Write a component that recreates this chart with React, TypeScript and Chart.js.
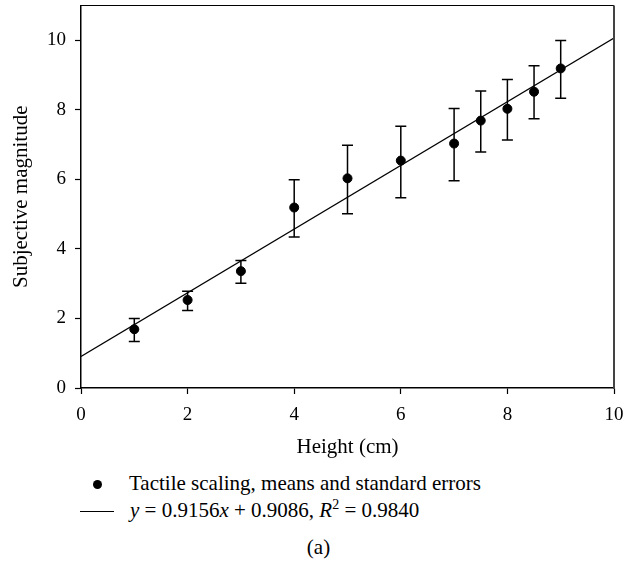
import React, { useEffect, useRef } from "react";
import { Chart, registerables } from "chart.js";

Chart.register(...registerables);

const heights = [1, 2, 3, 4, 5, 6, 7, 7.5, 8, 8.5, 9];
const means = [1.69, 2.53, 3.36, 5.19, 6.03, 6.54, 7.03, 7.69, 8.03, 8.52, 9.19];
const errLow = [1.34, 2.23, 3.01, 4.34, 5.01, 5.47, 5.96, 6.79, 7.13, 7.74, 8.33];
const errHigh = [2.0, 2.78, 3.67, 5.99, 6.98, 7.53, 8.04, 8.54, 8.87, 9.27, 9.99];
const fitX = [0, 10];
const fitY = [0.9086, 10.0646];
const xTicks = [0, 2, 4, 6, 8, 10];
const yTicks = [0, 2, 4, 6, 8, 10];

const FONT = "'Liberation Serif', 'DejaVu Serif', serif";

const errorBars = {
  id: "errorBars",
  beforeDatasetsDraw(chart: any) {
    const { ctx, scales } = chart;
    const xs = scales.x;
    const ys = scales.y;
    ctx.save();
    ctx.strokeStyle = "#000";
    ctx.lineWidth = 1.5;
    heights.forEach((h, i) => {
      const px = xs.getPixelForValue(h);
      const y1 = ys.getPixelForValue(errLow[i]);
      const y2 = ys.getPixelForValue(errHigh[i]);
      ctx.beginPath();
      ctx.moveTo(px, y1);
      ctx.lineTo(px, y2);
      ctx.moveTo(px - 5.5, y1);
      ctx.lineTo(px + 5.5, y1);
      ctx.moveTo(px - 5.5, y2);
      ctx.lineTo(px + 5.5, y2);
      ctx.stroke();
    });
    ctx.restore();
  },
};

const frame = {
  id: "frame",
  afterDraw(chart: any) {
    const { ctx, chartArea: a } = chart;
    ctx.save();
    ctx.strokeStyle = "#000";
    ctx.lineWidth = 1.2;
    ctx.beginPath();
    ctx.moveTo(a.left, a.top);
    ctx.lineTo(a.right, a.top);
    ctx.stroke();
    ctx.strokeStyle = "#444";
    ctx.lineWidth = 2;
    ctx.beginPath();
    ctx.moveTo(a.right, a.top);
    ctx.lineTo(a.right, a.bottom + 1);
    ctx.stroke();
    ctx.restore();
  },
};

export default function App() {
  const ref = useRef<HTMLCanvasElement>(null);
  useEffect(() => {
    const chart = new Chart(ref.current as HTMLCanvasElement, {
      type: "scatter",
      data: {
        datasets: [
          {
            label: "Tactile scaling, means and standard errors",
            data: heights.map((h, i) => ({ x: h, y: means[i] })),
            backgroundColor: "#000",
            borderColor: "#000",
            pointRadius: 4.5,
            pointHoverRadius: 4.5,
            order: 1,
          },
          {
            type: "line",
            label: "fit",
            data: fitX.map((x, i) => ({ x, y: fitY[i] })),
            borderColor: "#000",
            borderWidth: 1.3,
            pointRadius: 0,
            fill: false,
            order: 2,
          } as any,
        ],
      },
      options: {
        animation: false,
        responsive: false,
        maintainAspectRatio: false,
        layout: { padding: { top: 4, right: 23, left: 0, bottom: 0 } },
        plugins: { legend: { display: false }, tooltip: { enabled: false } },
        scales: {
          x: {
            type: "linear",
            min: 0,
            max: 10,
            afterBuildTicks: (s: any) => {
              s.ticks = xTicks.map((v) => ({ value: v }));
            },
            afterFit: (s: any) => {
              s.height = 72;
              s.paddingLeft = 0;
              s.paddingRight = 0;
            },
            ticks: { color: "#000", font: { family: FONT, size: 19 }, padding: 10, maxRotation: 0 },
            grid: { drawOnChartArea: false, drawTicks: true, tickLength: 6, tickColor: "#000", tickWidth: 1.2 },
            border: { display: true, color: "#000", width: 1.5 },
            title: {
              display: true,
              text: "Height (cm)",
              color: "#000",
              font: { family: FONT, size: 21 },
              padding: { top: 0, bottom: 0 },
            },
          },
          y: {
            type: "linear",
            min: 0,
            max: 11,
            afterBuildTicks: (s: any) => {
              s.ticks = yTicks.map((v) => ({ value: v }));
            },
            afterFit: (s: any) => {
              s.width = 81;
              s.paddingTop = 0;
              s.paddingBottom = 0;
            },
            ticks: { color: "#000", font: { family: FONT, size: 19 }, padding: 9 },
            grid: { drawOnChartArea: false, drawTicks: true, tickLength: 6, tickColor: "#000", tickWidth: 1.2 },
            border: { display: true, color: "#000", width: 1.5 },
            title: {
              display: true,
              text: "Subjective magnitude",
              color: "#000",
              font: { family: FONT, size: 21 },
              padding: { top: 9, bottom: 0 },
            },
          },
        },
      },
      plugins: [errorBars, frame],
    });
    return () => chart.destroy();
  }, []);

  const textStyle: React.CSSProperties = {
    position: "absolute",
    fontFamily: FONT,
    fontSize: 21,
    color: "#000",
    whiteSpace: "nowrap",
    lineHeight: "24px",
  };

  return (
    <div style={{ position: "absolute", left: 0, top: 0, width: 637, height: 575, background: "#fff" }}>
      <canvas ref={ref} width={637} height={460} style={{ position: "absolute", left: 0, top: 0 }} />
      <div
        style={{
          position: "absolute",
          left: 92.5,
          top: 479.5,
          width: 9,
          height: 9,
          borderRadius: "50%",
          background: "#000",
        }}
      />
      <div style={{ ...textStyle, left: 129, top: 471 }}>Tactile scaling, means and standard errors</div>
      <div style={{ position: "absolute", left: 80, top: 510.5, width: 34, height: 1.3, background: "#000" }} />
      <div style={{ ...textStyle, left: 130, top: 498 }}>
        <i>y</i> = 0.9156<i>x</i> + 0.9086, <i>R</i>
        <sup style={{ fontSize: 14, lineHeight: 0 }}>2</sup> = 0.9840
      </div>
      <div style={{ ...textStyle, left: 0, width: 637, textAlign: "center", top: 535 }}>(a)</div>
    </div>
  );
}
